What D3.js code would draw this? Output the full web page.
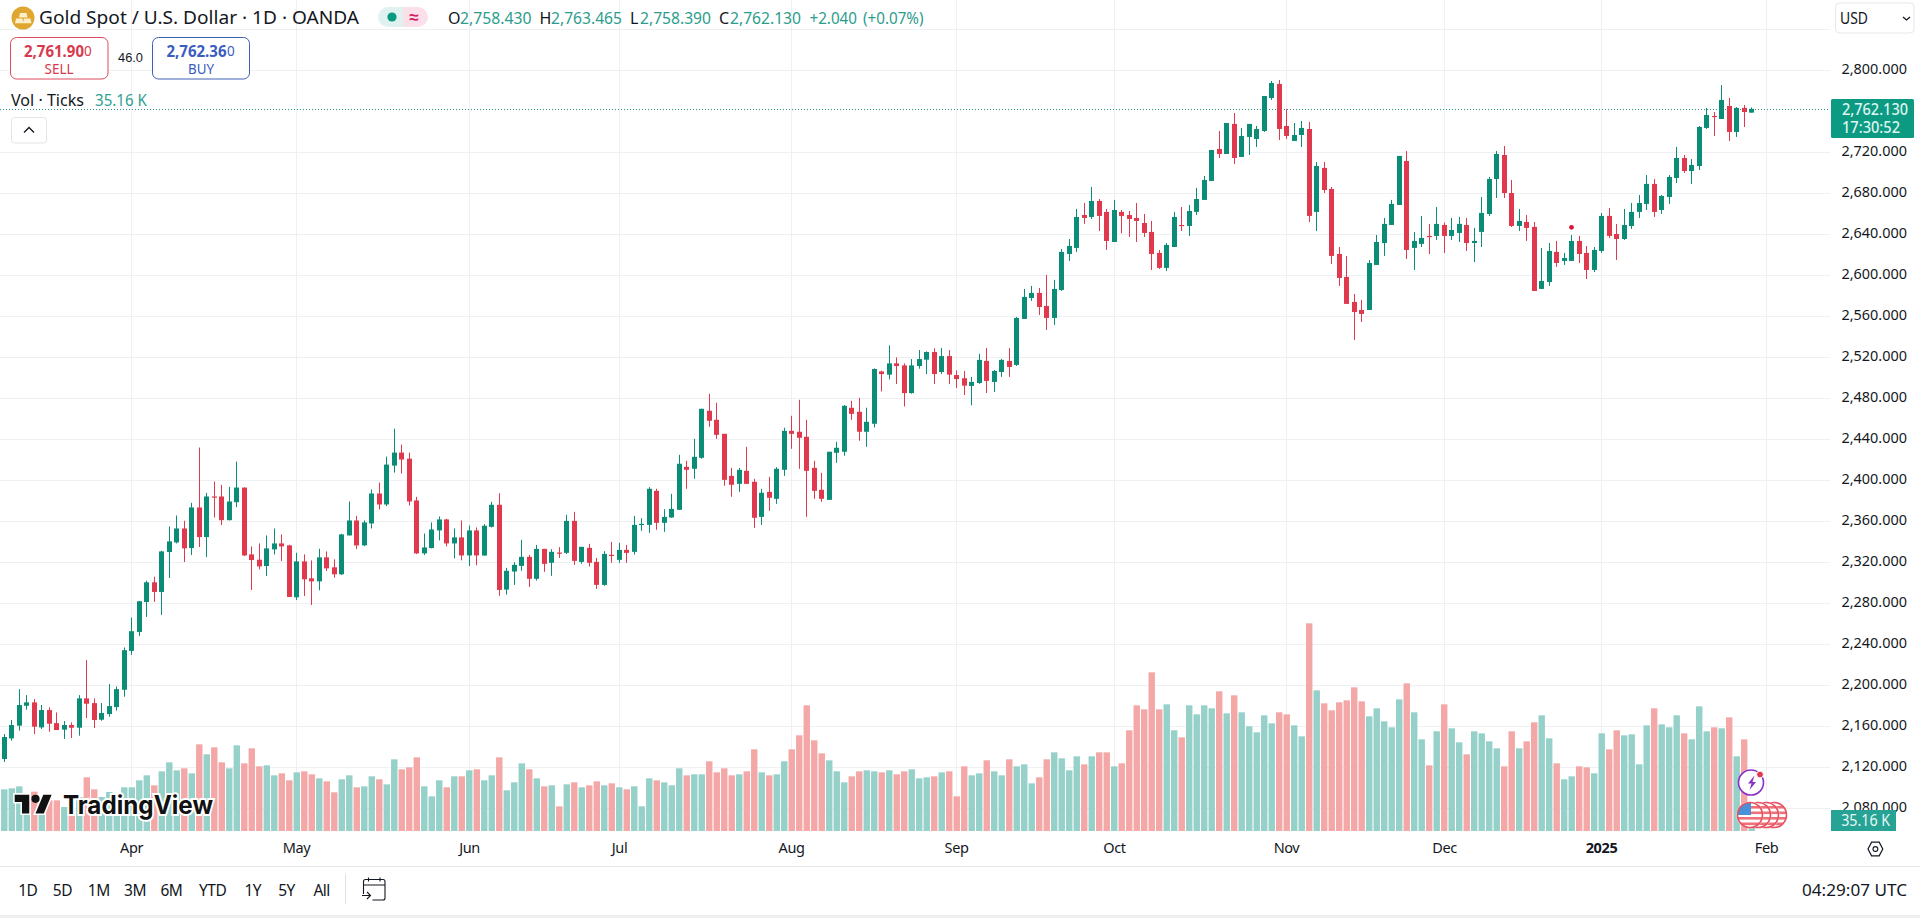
<!DOCTYPE html>
<html><head><meta charset="utf-8">
<script src="https://cdnjs.cloudflare.com/ajax/libs/d3/7.8.5/d3.min.js"></script>
<style>
html,body{margin:0;padding:0;background:#fff;overflow:hidden}
svg{display:block}
text{font-family:'Noto Sans',sans-serif;fill:#131722}
</style></head><body><svg id="c" width="1920" height="918"></svg>
<script>
const opens=[2128.1,2148.2,2160.6,2180.0,2183.3,2158.9,2175.8,2163.1,2156.7,2161.2,
2158.6,2187.2,2182.6,2166.4,2171.9,2178.7,2195.6,2233.5,2252,2281.2,
2300.4,2291,2329.9,2339.3,2352.9,2333.8,2373.4,2344.5,2384.1,2384.1,
2361,2378.5,2392.8,2327.6,2322.4,2316.3,2332.5,2338.3,2336.4,2285.8,
2320.8,2304.3,2301.3,2324.7,2315,2308.2,2346.1,2360.7,2336.4,2357.8,
2387,2376.3,2414.2,2426.9,2421,2380.2,2328.6,2333.8,2351,2361.7,
2338.3,2344.2,2326.6,2351,2326.5,2354.5,2376,2293.3,2310.9,2316.4,
2325.2,2303.8,2333,2319.4,2329.4,2329.1,2360.3,2320.3,2334,2320.3,
2297.9,2327.2,2322.3,2332,2330.1,2356.4,2356.4,2389.6,2358.4,2363.6,
2371.1,2413,2411.1,2421.8,2467.7,2458.9,2445.2,2404.2,2396.4,2409.1,
2398.4,2364.2,2388.6,2381.8,2410.1,2448.1,2447.2,2442.3,2412,2390.6,
2380.8,2426.7,2427.7,2470.6,2466.7,2447.2,2455,2506,2502.9,2513.9,
2511.9,2484.9,2511.3,2517.5,2525,2505.5,2521,2502.5,2499.4,2491.9,
2494.8,2516.3,2495.8,2505.5,2516.3,2512.4,2557.2,2577.7,2582.6,2569.9,
2558.2,2585.5,2620.6,2626.5,2658.6,2656.7,2672.3,2661.6,2632.3,2661.6,
2658.6,2655.7,2650.8,2642.1,2621.6,2607,2627.4,2648.9,2647.9,2661.6,
2673.3,2691.8,2723,2718.1,2747.4,2715.2,2734.7,2732.7,2740.5,2772.7,
2786.4,2745.4,2730.8,2736.6,2742.5,2661.6,2704.5,2684,2620.6,2598.2,
2573.8,2566,2566,2609.9,2631.3,2648.9,2668.4,2711.3,2626.5,2630.4,
2638.2,2638.2,2648.9,2638.2,2641.1,2648.9,2631.3,2642.1,2659.6,2693.7,
2717.1,2680,2647.9,2651.8,2647,2586.5,2593.3,2622.6,2613.8,2613.8,
2633.3,2621.6,2605,2623.5,2657.7,2640.1,2635.2,2647.9,2661.6,2669.4,
2688.9,2663.5,2676.2,2694.7,2714.2,2701.5,2706.4,2743.5,2755.2,2752.2,
2764.9,2739.6,2763,2758.43];
const closes=[2149.5,2161.2,2180.7,2183.3,2159.6,2175.8,2162.5,2156.3,2161.2,2158.6,
2187.2,2182,2166.1,2172.9,2179.7,2196.2,2234.2,2252.7,2281.9,2300.4,
2291,2330.5,2340.3,2352.9,2333.5,2373.4,2344.5,2384.1,2383.1,2361,
2379.2,2392.8,2326.6,2322.1,2315.9,2333.5,2338.3,2335.4,2286.1,2320.8,
2303.3,2301.3,2324.7,2314,2308.2,2347.1,2360.7,2336.4,2358.8,2387,
2376.3,2415.2,2426.9,2420.1,2379.2,2328.6,2334.4,2351.9,2361.7,2338.3,
2344.2,2326.6,2351,2326.6,2355.5,2376,2293,2311.6,2317.4,2325.2,
2303.8,2333,2318.4,2330.1,2328.5,2360.3,2321.3,2335,2319.4,2297.9,
2328.1,2326.2,2332,2329.1,2356.4,2357.4,2391.6,2358.4,2364.2,2372,
2416,2410.1,2422.8,2469.6,2457.9,2444.2,2400.3,2395.5,2410.1,2396.4,
2363.3,2387.7,2382.8,2411.1,2448.1,2445.2,2441.3,2409.1,2389.6,2381.8,
2427.7,2431.6,2472.5,2464.7,2447.2,2456.9,2508.4,2503.5,2513.9,2511.3,
2484.9,2511.9,2518.1,2525,2503.5,2521,2502.9,2498.6,2492.2,2495.8,
2517.3,2496.8,2506.5,2517.3,2510.4,2558.2,2578.7,2582.6,2568.9,2558.2,
2586.5,2622.6,2628.4,2656.7,2655.7,2672.3,2657.7,2633.3,2663.5,2657.7,
2654.7,2652.8,2641.1,2620.6,2607,2629.4,2656.7,2647.9,2662.5,2674.2,
2692.8,2722,2718.1,2748.3,2714.2,2735.7,2747.4,2742.5,2774.6,2787.3,
2742.5,2735.7,2736.6,2743.5,2657.7,2706.4,2683,2618.7,2597.2,2571.9,
2564,2562.1,2611.8,2632.3,2649.9,2669.4,2716.2,2624.5,2633.3,2636.2,
2637.2,2649.9,2638.2,2644,2649.9,2631.3,2633.3,2660.6,2693.7,2718.1,
2680,2647.9,2652.8,2646,2584.5,2594.3,2623.5,2611.8,2616.7,2633.3,
2620.6,2605,2624.5,2657.7,2638.2,2635.2,2648.9,2661.6,2670.3,2688.9,
2661.6,2677.2,2695.7,2714.2,2701.5,2707.4,2744.4,2756.1,2754.2,2770.8,
2739.6,2763,2759,2762.13];
const highs=[2152.4,2166.1,2196.2,2190.4,2186.5,2180.7,2178.4,2173.5,2165.1,2163.8,
2190.4,2224.5,2187.2,2182.6,2201.1,2198.8,2236.8,2266,2282.2,2302,
2305.9,2331.2,2354.9,2365.6,2360.4,2377.9,2431.8,2387.6,2398.7,2395.4,
2393.5,2418.1,2392.8,2335.4,2338.3,2346.1,2352.9,2347.1,2337,2329.2,
2327.6,2321.8,2333.1,2330.5,2322.8,2347.7,2379.2,2365.2,2360.7,2390.9,
2397.7,2423,2450.2,2434.7,2426.9,2383.7,2348,2358.8,2364.6,2362.3,
2352.9,2360.7,2355.8,2353.9,2357.1,2378.9,2387.3,2314.5,2320,2341.8,
2327.2,2336.9,2333,2332.7,2334.7,2366.2,2369.1,2335,2337.9,2324.2,
2330.8,2339.8,2338.9,2336.9,2365.2,2362.9,2393.2,2391.6,2371.7,2386.7,
2424.7,2418.9,2440.3,2469.6,2484.2,2475.5,2445.2,2412,2412,2432.5,
2401.3,2391.6,2403.3,2412.7,2451.1,2462.8,2478.4,2458.9,2418.9,2407.2,
2427.7,2437.4,2473.2,2477.4,2480.3,2470.6,2509,2506.8,2531.5,2519.7,
2513.9,2518.1,2526.9,2525.6,2528.5,2528.9,2526.9,2507,2506.5,2500.7,
2523.1,2528.9,2507.5,2518.2,2528.9,2559.2,2586.5,2589.4,2587.5,2600.1,
2595.3,2625.5,2635.2,2664.5,2670.3,2686,2674.2,2664.5,2673.3,2663.5,
2662.5,2670.3,2659.6,2652.8,2624.5,2631.3,2661.6,2666.4,2668.4,2685,
2696.7,2722,2740.5,2748.3,2758.1,2743.5,2747.4,2745.4,2774.6,2789.3,
2790.3,2762,2748.3,2750.3,2749.3,2710.3,2710.3,2686,2627.4,2618.7,
2581.6,2575.8,2614.8,2639.1,2655.7,2673.3,2716.2,2721,2642,2657.7,
2649.9,2666.4,2651.2,2655.7,2656.7,2655.7,2646,2676.2,2695.7,2721,
2725.9,2692.8,2664.5,2658.6,2651.8,2626.5,2631.3,2633.3,2621.6,2639.1,
2638.2,2628.4,2627.4,2660.6,2665.5,2649.9,2664.5,2670.3,2678.1,2697.6,
2693.7,2678.1,2697.6,2725,2717.1,2713.2,2745.4,2763,2759,2785.4,
2772.7,2763.9,2765.9,2763.465];
const lows=[2125.2,2146,2155.7,2176.1,2152.4,2157.3,2154.7,2156.3,2147.6,2148.5,
2150.8,2168,2158.3,2165.4,2169.3,2175.2,2188.8,2229.6,2248.1,2266.6,
2281.2,2268.6,2304.6,2338.3,2320.2,2327,2334.8,2325,2363.6,2356.2,
2360.7,2373.7,2326,2292.9,2313,2306.5,2327.6,2321.1,2286.1,2283.2,
2287.1,2278.3,2292.6,2311.4,2304.9,2307.5,2346.1,2332.8,2335.7,2352.9,
2371.4,2374.7,2407.4,2406.4,2375.3,2327.9,2327,2333.5,2341.2,2335.4,
2323.7,2321.8,2316.3,2316.9,2326.5,2353.8,2287.2,2288.5,2297.9,2311.6,
2295.9,2302.1,2310.6,2306.7,2324.2,2328.1,2317.4,2318.4,2315.8,2294,
2296.9,2319.4,2319.4,2319.4,2327.5,2350.6,2348.6,2351.6,2349.6,2363.3,
2371.1,2391.6,2401.3,2420.8,2452.1,2440.3,2394.5,2383.8,2388.6,2396.4,
2353.5,2356.4,2370.1,2376.9,2404.2,2430.6,2411.1,2364.2,2381.8,2378.9,
2380.8,2416.9,2423.8,2458.9,2438.4,2432.5,2451.4,2486.5,2498.3,2493.8,
2471.9,2484.3,2508.7,2503.5,2493.8,2503.5,2493.8,2490,2483,2473,
2493.9,2485,2486,2500.7,2500.7,2511.4,2557.2,2574.8,2561.1,2546.5,
2551.4,2584.5,2613.8,2622.6,2649.9,2654.7,2643,2624.5,2632.3,2640.8,
2637.2,2632.3,2637.2,2605,2606,2604,2627.4,2643,2638.2,2658.6,
2673.3,2691.8,2714.2,2718.1,2708.4,2715.2,2717.1,2724.9,2739.6,2770.8,
2731.8,2732.7,2730.8,2724.9,2651.8,2643,2680,2610.9,2589.4,2571.9,
2536.8,2554.3,2566,2609.9,2618.7,2648.9,2668.4,2615.7,2605,2627.4,
2620.6,2634.3,2621.6,2634.3,2632.3,2623.5,2612.8,2627.4,2657.7,2675.2,
2675.2,2646.9,2643,2633.3,2584.5,2586.5,2589.4,2608,2609.9,2613.8,
2611.8,2596.2,2603,2621.6,2636.2,2614.8,2634.3,2645,2655.7,2663.5,
2656.7,2659.6,2669.4,2689.8,2699.6,2688.9,2702.5,2742.5,2735.7,2752.2,
2730.8,2734.7,2744.4,2758.39];
const volumesK=[250,256,268,224,236,184,184,184,144,100,
204,322,250,204,234,204,262,262,304,334,
274,358,412,364,376,346,520,460,502,412,
376,514,406,496,388,394,334,346,304,352,
358,340,316,298,232,310,334,262,268,328,
310,280,430,370,382,442,268,208,304,262,
328,328,364,370,304,334,442,244,292,406,
370,316,268,274,148,280,292,262,274,298,
274,286,262,250,268,148,316,304,292,274,
376,334,340,340,418,352,376,334,340,358,
490,352,334,340,418,490,574,754,544,466,
424,358,292,328,358,364,358,352,364,340,
358,370,316,322,328,352,358,208,388,334,
346,424,358,334,430,388,400,286,322,430,
472,436,364,448,400,448,472,472,388,406,
604,754,730,952,730,760,604,562,754,700,
754,736,838,706,814,712,628,592,694,646,
712,700,634,568,1246,844,766,724,772,784,
862,778,688,736,658,622,790,886,712,550,
394,598,760,616,532,460,598,586,538,496,
388,598,496,538,652,694,556,406,310,328,
388,382,346,586,490,604,574,580,400,634,
736,640,622,694,586,550,748,598,622,616,
682,448,550,35.16];
const monthLabels=["Apr","May","Jun","Jul","Aug","Sep","Oct","Nov","Dec","2025","Feb"];
const monthBars=[17,39,62,82,105,127,148,171,192,213,235];
const priceLabels=[2800,2720,2680,2640,2600,2560,2520,2480,2440,2400,2360,2320,2280,2240,2200,2160,2120,2080];
const gridPrices=[2840,2800,2720,2680,2640,2600,2560,2520,2480,2440,2400,2360,2320,2280,2240,2200,2160,2120,2080];
const rangeLabels=["1D","5D","1M","3M","6M","YTD","1Y","5Y","All"];
const lastPrice=2762.13, dividendPrice=2646.6, dividendBar=209;

const UP='#0b8c76',DOWN='#e0384c',VUP='#95d0c9',VDOWN='#f4a7a7',GRID='#eff0f3',TEAL='#2c9c8c';
const svg=d3.select('#c');
const x=d3.scaleLinear().domain([0,233]).range([4.3,1751.7]);
const y=d3.scaleLinear().domain([2080,2800]).range([808.3,70]);
const v=d3.scaleLinear().domain([0,1200]).range([831,631]);
const px=i=>Math.round(x(i)-0.5)+0.5;
const isUp=i=>closes[i]>=opens[i];
const idx=d3.range(opens.length);

const g=svg.append('g');
g.selectAll('.h').data(gridPrices).join('line').attr('x1',0).attr('x2',1830)
 .attr('y1',d=>Math.round(y(d))+.5).attr('y2',d=>Math.round(y(d))+.5).attr('stroke',GRID);
g.selectAll('.vv').data(monthBars).join('line').attr('y1',0).attr('y2',831)
 .attr('x1',d=>px(d)).attr('x2',d=>px(d)).attr('stroke',GRID);

svg.append('g').selectAll('rect').data(idx).join('rect')
 .attr('x',i=>x(i)-3.2).attr('width',6.4).attr('y',i=>v(volumesK[i])).attr('height',i=>831-v(volumesK[i]))
 .attr('fill',i=>isUp(i)?VUP:VDOWN);

const wm=svg.append('g');
wm.append('path').attr('d','M14 22H7V11H0V4h14v18zM28 22h-8l7.5-18h8L28 22z')
 .attr('transform','translate(14.7,790.5) scale(1.04)').attr('fill','#111').attr('stroke','#fff').attr('stroke-width',3).attr('paint-order','stroke');
wm.append('circle').attr('cx',14.7+20*1.04).attr('cy',790.5+8*1.04).attr('r',4.1).attr('fill','#111');
wm.append('text').attr('x',63).attr('y',814).text('TradingView').attr('font-size',25.5).attr('font-weight',700)
 .attr('textLength',150).attr('lengthAdjust','spacingAndGlyphs')
 .style('font-family','Inter').style('fill','#111').attr('stroke','#fff').attr('stroke-width',4).attr('paint-order','stroke');

svg.append('line').attr('x1',0).attr('x2',1830).attr('y1',Math.round(y(lastPrice))+.5).attr('y2',Math.round(y(lastPrice))+.5)
 .attr('stroke','#2a9485').attr('stroke-dasharray','1 2');

const cg=svg.append('g');
cg.selectAll('.w').data(idx).join('line').attr('x1',px).attr('x2',px)
 .attr('y1',i=>y(highs[i])).attr('y2',i=>y(lows[i])).attr('stroke',i=>isUp(i)?UP:DOWN);
cg.selectAll('.b').data(idx).join('rect').attr('x',i=>px(i)-2.5).attr('width',5)
 .attr('y',i=>y(Math.max(opens[i],closes[i])))
 .attr('height',i=>Math.max(1.2,Math.abs(y(opens[i])-y(closes[i]))))
 .attr('fill',i=>isUp(i)?UP:DOWN);
svg.append('circle').attr('cx',px(dividendBar)).attr('cy',y(dividendPrice)).attr('r',2.4).attr('fill','#d8143a');

const ya=svg.append('g').attr('transform','translate(1841.5,0)')
 .call(d3.axisRight(y).tickValues(priceLabels).tickFormat(d3.format(',.3f')).tickSize(0).tickPadding(0));
ya.select('.domain').remove();
ya.selectAll('text').attr('font-size',15).attr('dy','0.24em').attr('textLength',65.5).attr('lengthAdjust','spacingAndGlyphs').style('fill','#131722');

const xa=svg.append('g').attr('transform','translate(0,841)')
 .call(d3.axisBottom(x).tickValues(monthBars).tickFormat((d,i)=>monthLabels[i]).tickSize(0).tickPadding(0));
xa.select('.domain').remove();
xa.selectAll('text').attr('font-size',14.5).attr('dy','0.82em').style('fill','#131722').style('letter-spacing','-0.4px')
 .attr('font-weight',d=>d===213?700:400);
xa.selectAll('.tick').attr('transform',d=>`translate(${px(d)},0)`);

svg.append('line').attr('x1',0).attr('x2',1920).attr('y1',866.5).attr('y2',866.5).attr('stroke','#e6e7ea');
svg.append('rect').attr('x',0).attr('y',915).attr('width',1920).attr('height',3).attr('fill','#eeeff1');

const txt=(s,xx,yy,size,fill,opt={})=>{const t=svg.append('text').attr('x',xx).attr('y',yy).attr('font-size',size).style('fill',fill).text(s);
 if(opt.anchor)t.attr('text-anchor',opt.anchor); if(opt.w)t.attr('textLength',opt.w).attr('lengthAdjust','spacingAndGlyphs'); if(opt.weight)t.attr('font-weight',opt.weight); return t;};

const rangeX=[27.8,62.4,98.8,135,171.4,212.7,252.7,286.5,321.6];
svg.append('g').selectAll('text').data(rangeLabels).join('text').attr('x',(d,i)=>rangeX[i]).attr('y',896).attr('text-anchor','middle')
 .attr('font-size',15.5).style('fill','#131722').style('letter-spacing','-0.5px').text(d=>d);
svg.append('line').attr('x1',345.5).attr('x2',345.5).attr('y1',874).attr('y2',904).attr('stroke','#e0e3eb');
svg.append('path').attr('fill','none').attr('stroke','#131722').attr('stroke-width',1.1)
 .attr('d','M363.5 894V881.5a2 2 0 0 1 2-2H383a2 2 0 0 1 2 2V898a2 2 0 0 1-2 2H372.5M363.5 885H385M368.5 877.5v4M380 877.5v4M362 895.5h8M367 892l3.5 3.5L367 899');
txt('04:29:07 UTC',1907,896,16,'#131722',{anchor:'end',w:105});

svg.append('circle').attr('cx',23).attr('cy',18).attr('r',11.5).attr('fill','#dfa72f');
svg.append('path').attr('fill','#fbeec8').attr('d','M20 13h6.5l1 4.6H19zM16 18.6h6.5l1 4.6H15zM24 18.6h6.5l1 4.6H23z');
txt('Gold Spot / U.S. Dollar · 1D · OANDA',39,24,17.5,'#131722',{w:320});
svg.append('path').attr('d','M388 7H403V27H388a10 10 0 0 1 0-20z').attr('fill','#dff2ef');
svg.append('path').attr('d','M403 7H418a10 10 0 0 1 0 20H403z').attr('fill','#fbe0ea');
svg.append('circle').attr('cx',392).attr('cy',17).attr('r',4.6).attr('fill','#089981');
txt('≈',414,23,17,'#d81b60',{anchor:'middle',weight:700});
[['O',448,'#131722'],['2,758.430',460,TEAL,71.5],['H',539.5,'#131722'],['2,763.465',551,TEAL,71],['L',630,'#131722'],['2,758.390',640,TEAL,71],['C',719,'#131722'],['2,762.130',730,TEAL,71],['+2.040',809.5,TEAL,47.5],['(+0.07%)',863,TEAL,60.5]]
 .forEach(a=>txt(a[0],a[1],23.5,16,a[2],a[3]?{w:a[3]}:{}));

svg.append('rect').attr('x',10.5).attr('y',37.5).attr('width',97.5).attr('height',41.5).attr('rx',6).attr('fill','#fff').attr('stroke','#dd4a5c');
svg.append('rect').attr('x',152.5).attr('y',37.5).attr('width',97).attr('height',41.5).attr('rx',6).attr('fill','#fff').attr('stroke','#3e62b3');
txt('2,761.90',24,56.5,15.5,'#d8394c',{weight:700,w:60});
txt('0',84,55.5,13.5,'#d8394c');
txt('SELL',59,73.5,14,'#d8394c',{anchor:'middle',w:29});
txt('46.0',130.5,62,12,'#131722',{anchor:'middle',w:25}).style('font-family','Liberation Sans');
txt('2,762.36',166.5,56.5,15.5,'#3b5cc0',{weight:700,w:60});
txt('0',227,55.5,13.5,'#3b5cc0');
txt('BUY',201,73.5,14,'#3b5cc0',{anchor:'middle',w:26});
txt('Vol · Ticks',11,105.5,15.5,'#131722',{w:73});
txt('35.16 K',95,105.5,15.5,'#2f9f91',{w:52});
svg.append('rect').attr('x',11.5).attr('y',117.5).attr('width',35).attr('height',25.5).attr('rx',3).attr('fill','#fff').attr('stroke','#e3e4e8');
svg.append('path').attr('d','M24 132.5l5-5 5 5').attr('fill','none').attr('stroke','#131722').attr('stroke-width',1.4);

svg.append('rect').attr('x',1835.5).attr('y',3).attr('width',78.5).attr('height',30).attr('rx',4).attr('fill','#fff').attr('stroke','#e6e7ea');
txt('USD',1840,23.5,15.5,'#131722',{w:28});
svg.append('path').attr('d','M1903 17l3.5 3 3.5-3').attr('fill','none').attr('stroke','#131722').attr('stroke-width',1.3);

svg.append('rect').attr('x',1831).attr('y',99).attr('width',83).attr('height',39).attr('rx',1.5).attr('fill','#0c9a82');
txt('2,762.130',1842,114.5,15.5,'#dff5f0',{w:66,weight:500});
txt('17:30:52',1842,132.5,15.5,'#dff5f0',{w:58,weight:500});

svg.append('rect').attr('x',1831).attr('y',810).attr('width',65).attr('height',21).attr('fill','#26a395');
txt('35.16 K',1865.7,826,15.5,'#e8f8f5',{anchor:'middle',w:49});

svg.append('path').attr('d','M1868 849l3.6-6.8h7.6l3.6 6.8-3.6 6.8h-7.6z').attr('fill','none').attr('stroke','#131722').attr('stroke-width',1.2);
svg.append('circle').attr('cx',1875.4).attr('cy',849).attr('r',2.4).attr('fill','none').attr('stroke','#131722').attr('stroke-width',1.1);

const ev=svg.append('g');
ev.append('circle').attr('cx',1751).attr('cy',782.5).attr('r',12.5).attr('fill','#fff').attr('stroke','#8b2fc9').attr('stroke-width',1.6);
ev.append('path').attr('d','M1754.5 775.5l-6.5 8h3.5l-2 6.5 6.5-8h-3.5z').attr('fill','#8b2fc9');
ev.append('circle').attr('cx',1760).attr('cy',774.5).attr('r',3.4).attr('fill','#e0364c').attr('stroke','#fff');
const defs=svg.append('defs');
[1774,1766,1758,1750].forEach((cx,k)=>{
 defs.append('clipPath').attr('id','fl'+k).append('circle').attr('cx',cx).attr('cy',815).attr('r',12.5);
 const f=ev.append('g');
 f.append('circle').attr('cx',cx).attr('cy',815).attr('r',13.5).attr('fill','#fff');
 const c=f.append('g').attr('clip-path',`url(#fl${k})`);
 [806,811.5,817,822.5].forEach(yy=>c.append('rect').attr('x',cx-14).attr('y',yy).attr('width',28).attr('height',2.6).attr('fill','#ee7079'));
 if(k===3){c.append('rect').attr('x',cx-13).attr('y',802).attr('width',14).attr('height',13).attr('fill','#4a90d9');}
 f.append('circle').attr('cx',cx).attr('cy',815).attr('r',12.5).attr('fill','none').attr('stroke','#e8505f').attr('stroke-width',1.6);
});
</script></body></html>
